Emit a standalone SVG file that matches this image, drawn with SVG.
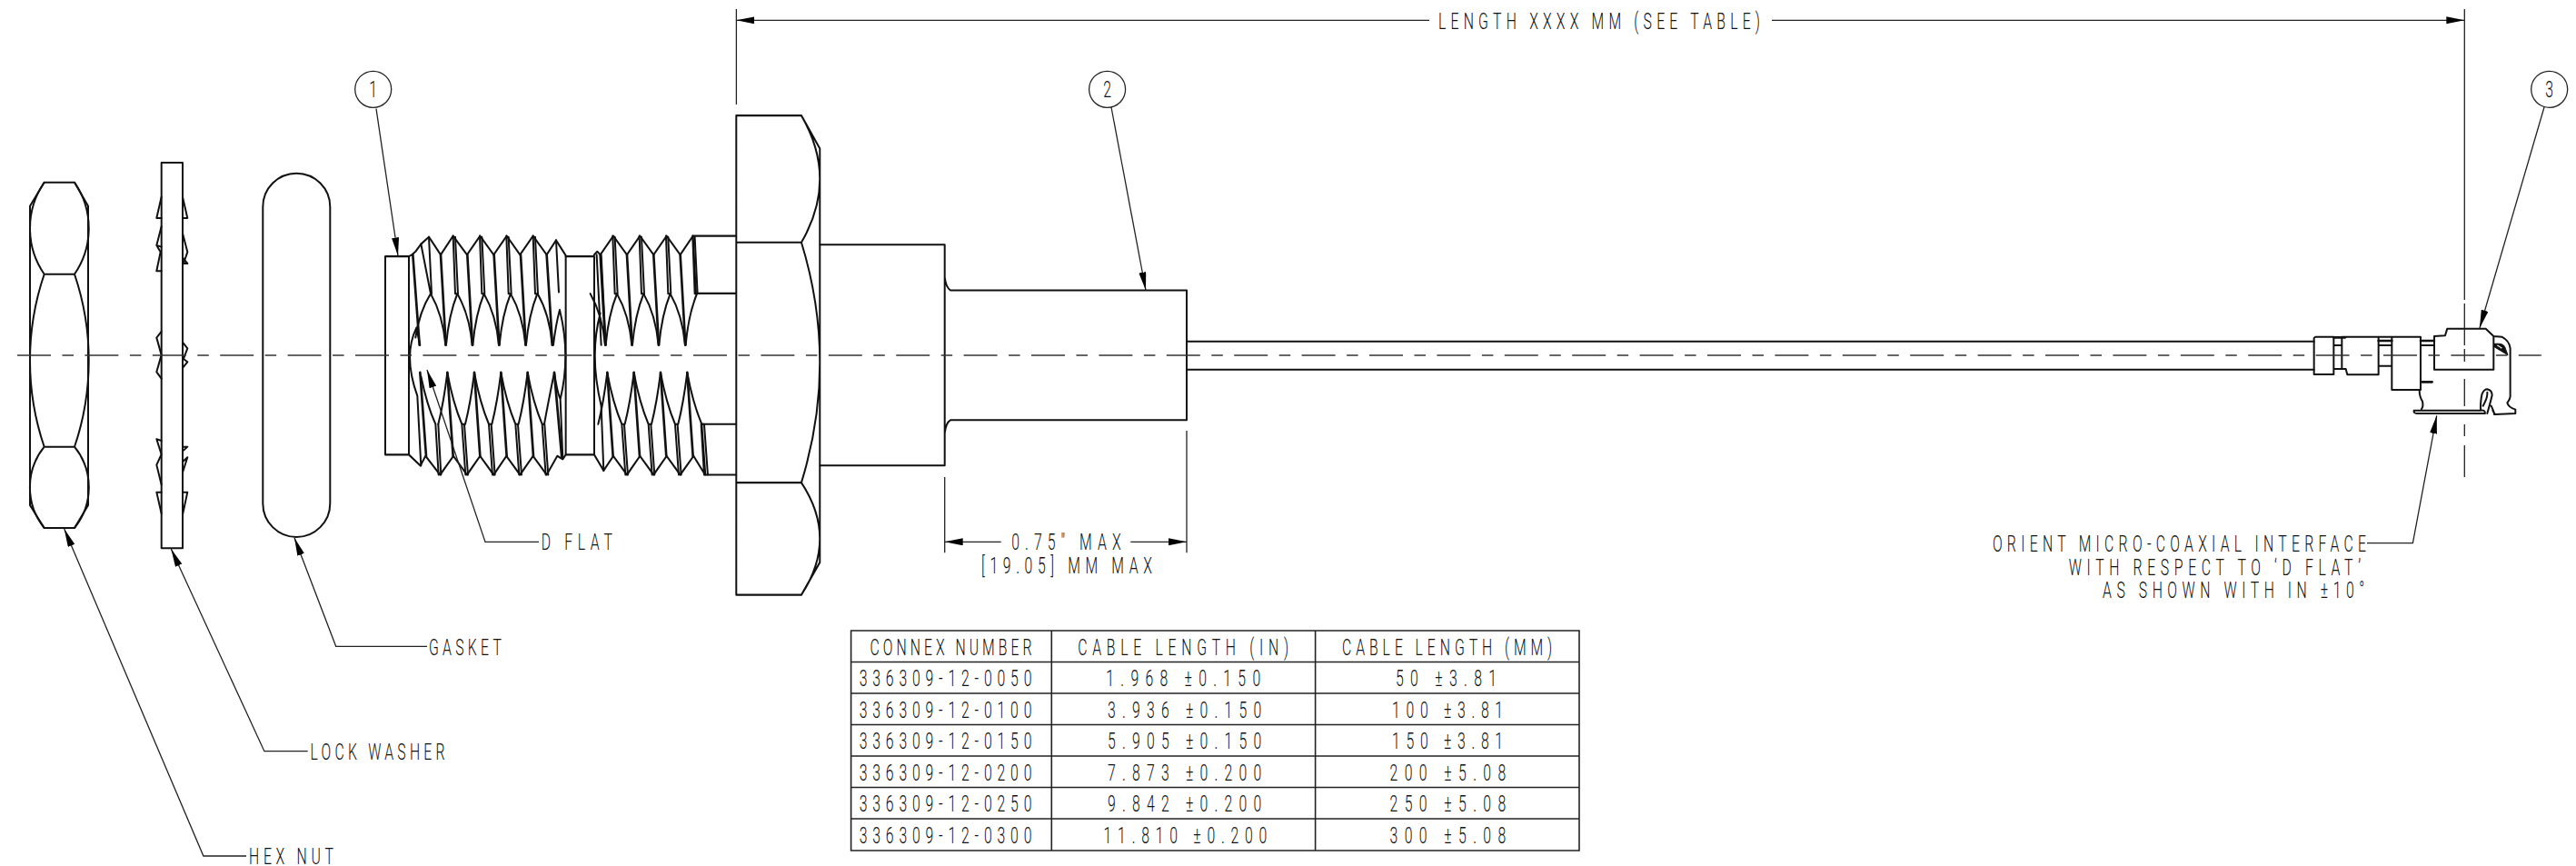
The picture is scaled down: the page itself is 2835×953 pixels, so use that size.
<svg xmlns="http://www.w3.org/2000/svg" xmlns:xlink="http://www.w3.org/1999/xlink" width="2835" height="953" viewBox="0 0 2835 953">
<style>
text{font-family:Roboto,"Liberation Sans",sans-serif;font-weight:300;font-size:25.5px;fill:#111}
.p{fill:none;stroke:#111;stroke-width:2;stroke-linejoin:round;stroke-linecap:round}
.z{fill:none;stroke:#111;stroke-width:6;stroke-linejoin:round;stroke-linecap:round}
.h{fill:none;stroke:#111;stroke-width:8;stroke-linejoin:round;stroke-linecap:round}
.l{fill:none;stroke:#222;stroke-width:1.3}
.a{marker-start:url(#ah)}
.b{marker-end:url(#ah)}
.c{fill:none;stroke:#333;stroke-width:1.3;stroke-dasharray:37 12.5 12.5 12.4}
.t{fill:none;stroke:#222;stroke-width:1.6}
.m{text-anchor:middle}
</style>
<defs>
<marker id="ah" markerUnits="userSpaceOnUse" markerWidth="22" markerHeight="10" refX="20" refY="4" orient="auto-start-reverse"><path d="M0 0L20 4L0 8Z" fill="#000"/></marker>
<g id="tt" class="z">
<path class="h" d="M255 505L272 783"/>
<path d="M222 625Q262 690 271 783M273 783Q282 690 310 625M296 447L303 625M303 450L312 625M303 625L312 625"/>
</g>
<g id="tb" class="z">
<path class="h" d="M277 868L296 1125"/>
<path d="M277 868Q265 960 247 1027M277 868Q295 960 325 1027M325 1027L337 1183M333 1027L345 1183M325 1027L333 1027"/>
</g>
</defs>
<rect width="2835" height="953" fill="#fff"/>

<g id="hex-nut"><path class="p" d="M48.7 200.7H82L97 226.7V556L82 581H48.7L33 556V226.7Z"/><path class="p" d="M48.7 200.7A89 89 0 0 0 48.7 301.7H82A89 89 0 0 0 82 200.7M48.7 301.7A295 295 0 0 0 48.7 491.7H82A295 295 0 0 0 82 301.7M48.7 491.7A71 71 0 0 0 48.7 581M82 581A71 71 0 0 0 82 491.7"/></g>

<g id="lock-washer"><rect class="p" x="177.7" y="179" width="23.3" height="424.3"/>
<g transform="translate(0,150) scale(.3333)"><path class="z" d="M533 200L517 270H533M533 298L517 360L530 382L517 445H533M517 360L533 365M533 645L517 665L533 722L517 778L533 800M517 1000L533 1005M517 1000L533 1050L517 1085L533 1150M533 1175H517L533 1245M603 200L619 270H603M603 320L619 382L606 420H619L603 400M603 680L619 700L606 735L619 745L603 765M603 1040L619 1025H603M603 1110L619 1060L603 1075M603 1175H619L603 1250"/></g></g>

<g id="gasket"><rect class="p" x="289.3" y="190.7" width="74" height="400.3" rx="37" ry="37"/></g>

<g id="threaded-body" transform="translate(400,100) scale(.3333,.35714)">
<path class="z" d="M150 510H72V1121H150ZM150 510L160 505L172 495L190 472L216 450L255 505L296 447L342 505L385 447L430 505L473 447L517 505L560 447L605 505L636 460L668 507V1121L658 1135L640 1125L605 1183L560 1125L517 1183L472 1125L430 1183L385 1125L342 1183L297 1125L253 1183L205 1125L188 1155L150 1121"/>
<path class="z" d="M668 510H762V1121H668M762 505L772 495L782 505L825 447L870 505L913 447L958 505L1001 447L1046 505L1088 447H1230M1088 447L1098 624M1098 624H1230M762 1121L793 1170L825 1125L870 1183L913 1125L958 1183L1001 1125L1046 1183L1090 1125L1128 1183H1230M1115 1027H1230M1115 1027L1125 1183"/>
<use xlink:href="#tt"/><use xlink:href="#tt" x="88"/><use xlink:href="#tt" x="176"/><use xlink:href="#tt" x="264"/>
<use xlink:href="#tt" x="527"/><use xlink:href="#tt" x="615"/><use xlink:href="#tt" x="703"/><use xlink:href="#tt" x="791"/>
<use xlink:href="#tb"/><use xlink:href="#tb" x="89"/><use xlink:href="#tb" x="177"/><use xlink:href="#tb" x="265"/>
<use xlink:href="#tb" x="528"/><use xlink:href="#tb" x="616"/><use xlink:href="#tb" x="704"/><use xlink:href="#tb" x="792"/>
<path class="h" d="M163 505L185 783M605 505L624 783M187 868L207 1125M630 868L655 1130"/>
<path class="z" d="M190 472L222 625M216 450L225 625M222 625Q185 680 172 760M175 730Q130 815 178 940M175 730L187 783M190 880Q210 970 238 1027M238 1027L248 1183M247 1027L256 1183M178 940L190 1155M575 625Q615 690 623 783M627 783Q635 720 648 675M636 460L645 620M648 675Q685 815 650 950M630 868Q610 960 597 1027M630 868Q640 930 650 950L658 1130M770 505L785 783M785 505L800 783M782 685Q745 815 785 970L793 1170"/>
</g>

<g id="flange"><g transform="translate(400,100) scale(.3333,.35714)"><path class="z" d="M1231 76H1446L1507 178V1453L1446 1553H1231ZM1231 467H1446M1231 1207H1446M1446 76Q1568 272 1446 467M1446 467Q1568 837 1446 1207M1446 1207Q1568 1380 1446 1553"/></g></g>

<g id="crimp-body"><path class="p" d="M902.4 269.3H1039.7V512.3H902.4M1039.7 305Q1041 316 1046 319.5H1306V462.3H1046Q1041 465 1039.7 477"/></g>

<g id="cable"><path class="p" d="M1306 375.7H2546.7M1306 406.7H2546.7"/></g>

<g id="micro-coax" transform="translate(2500,300) scale(.3333)">
<path class="z" d="M145 212H205V336H140V216ZM205 240H232M205 318H232M232 212V318H245L250 337H353V212M232 212H492M353 240H397M353 308H397M397 212V387H492V212M492 240H537M537 210L573 208L580 185H707L733 210V320H537V210M733 210L760 212Q785 225 788 250V400Q790 415 778 430Q782 445 805 452V465L738 468L730 455M470 455H690Q705 452 705 465H480Q468 465 470 455M488 387Q488 410 498 425Q502 440 495 450M690 450Q690 420 695 400Q702 385 712 385Q728 388 728 405Q722 430 712 465M698 440Q715 410 712 395M725 440Q735 460 735 468"/>
<path class="h" d="M353 225H397M492 225H537M205 214H243M497 361H530"/>
<path d="M735 235Q765 232 770 245L780 272L735 245Z" fill="#111" stroke="#111" stroke-width="3"/><path d="M745 240Q755 245 760 250" stroke="#fff" stroke-width="4" fill="none"/>
</g>

<g id="connectors">
<path class="l b" d="M1573 22.3H810.4"/>
<path class="l b" d="M1950 22.3H2712.3"/>
<path class="l" d="M810.4 10V115M2712.3 10V330M2712.3 334V380M2712.3 384V398M2712.3 417V447M2712.3 467V480M2712.3 490V525"/>
<path class="l b" d="M1101.7 596.3H1039.7"/>
<path class="l b" d="M1244.3 596.3H1306"/>
<path class="l" d="M1039.7 525V608.3M1306 474V608.3"/>
<path class="l b" d="M414 119.6L438 281.4"/>
<path class="l b" d="M1223 118L1261 319.5"/>
<path class="l b" d="M2800 118L2729 361"/>
<path class="l a" d="M70.7 582L223.9 942H271"/>
<path class="l a" d="M188.3 604L290.9 826.7H338.7"/>
<path class="l a" d="M324 591.7L369.7 711.3H470"/>
<path class="l a" d="M470 407L534 596.4H593"/>
<path class="l a" d="M2681.7 457.3L2655.4 597.7H2605"/>
<path class="c" d="M19 391H2797"/>
</g>

<g id="balloon-1"><circle class="l" cx="410.7" cy="98.3" r="20"/><text class="m" transform="translate(410.7,107) scale(.62,1)">1</text></g>
<g id="balloon-2"><circle class="l" cx="1218.6" cy="98.3" r="20"/><text class="m" transform="translate(1218.6,107) scale(.62,1)">2</text></g>
<g id="balloon-3"><circle class="l" cx="2805.7" cy="98.3" r="20"/><text class="m" transform="translate(2805.7,107) scale(.62,1)">3</text></g>

<g id="labels">
<text transform="translate(1583,32) scale(.62,1)" textLength="571">LENGTH XXXX MM (SEE TABLE)</text>
<text transform="translate(274,951) scale(.62,1)" textLength="150">HEX NUT</text>
<text transform="translate(341.4,836) scale(.62,1)" textLength="239">LOCK WASHER</text>
<text transform="translate(471.9,720.7) scale(.62,1)" textLength="129">GASKET</text>
<text transform="translate(595.7,605) scale(.62,1)" textLength="126">D FLAT</text>
<text transform="translate(1113.3,605) scale(.62,1)" textLength="194">0.75" MAX</text>
<text transform="translate(1080,631) scale(.62,1)" textLength="303">[19.05] MM MAX</text>
<text transform="translate(2192.9,606.7) scale(.62,1)" textLength="663">ORIENT MICRO-COAXIAL INTERFACE</text>
<text transform="translate(2276.8,632.7) scale(.62,1)" textLength="518">WITH RESPECT TO ‘D FLAT’</text>
<text transform="translate(2314,658.3) scale(.62,1)" textLength="465">AS SHOWN WITH IN ±10°</text>
</g>

<g id="table">
<path class="t" d="M936.6 694H1738V936H936.6ZM1157.3 694V936M1447.6 694V936M936.6 728.5H1738M936.6 763H1738M936.6 797.5H1738M936.6 832H1738M936.6 866.5H1738M936.6 901H1738"/>
<text transform="translate(957.5,720.7) scale(.62,1)" textLength="287">CONNEX NUMBER</text>
<text transform="translate(1186.2,720.7) scale(.62,1)" textLength="374">CABLE LENGTH (IN)</text>
<text transform="translate(1477,720.7) scale(.62,1)" textLength="373">CABLE LENGTH (MM)</text>
<text transform="translate(945.7,755) scale(.62,1)" textLength="306">336309-12-0050</text>
<text transform="translate(945.7,789.5) scale(.62,1)" textLength="306">336309-12-0100</text>
<text transform="translate(945.7,824) scale(.62,1)" textLength="306">336309-12-0150</text>
<text transform="translate(945.7,858.5) scale(.62,1)" textLength="306">336309-12-0200</text>
<text transform="translate(945.7,893) scale(.62,1)" textLength="306">336309-12-0250</text>
<text transform="translate(945.7,927.5) scale(.62,1)" textLength="306">336309-12-0300</text>
<text transform="translate(1217.3,755) scale(.62,1)" textLength="274">1.968 ±0.150</text>
<text transform="translate(1219,789.5) scale(.62,1)" textLength="273">3.936 ±0.150</text>
<text transform="translate(1219,824) scale(.62,1)" textLength="273">5.905 ±0.150</text>
<text transform="translate(1219,858.5) scale(.62,1)" textLength="273">7.873 ±0.200</text>
<text transform="translate(1219,893) scale(.62,1)" textLength="273">9.842 ±0.200</text>
<text transform="translate(1214.6,927.5) scale(.62,1)" textLength="290">11.810 ±0.200</text>
<text transform="translate(1536,755) scale(.62,1)" textLength="179">50 ±3.81</text>
<text transform="translate(1532,789.5) scale(.62,1)" textLength="197">100 ±3.81</text>
<text transform="translate(1532,824) scale(.62,1)" textLength="197">150 ±3.81</text>
<text transform="translate(1529.5,858.5) scale(.62,1)" textLength="206">200 ±5.08</text>
<text transform="translate(1529.5,893) scale(.62,1)" textLength="206">250 ±5.08</text>
<text transform="translate(1529.5,927.5) scale(.62,1)" textLength="206">300 ±5.08</text>
</g>
</svg>
